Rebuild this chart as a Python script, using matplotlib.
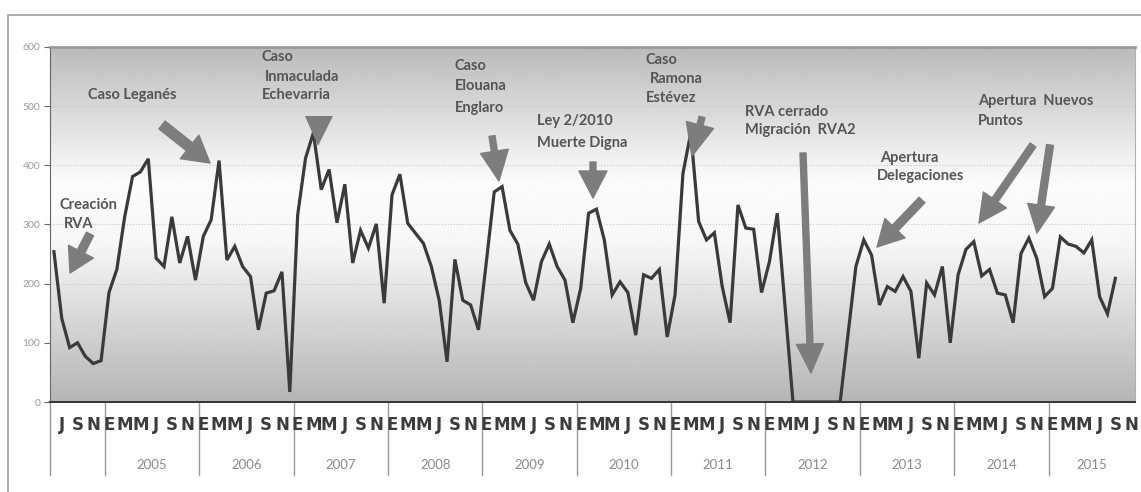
import numpy as np
import matplotlib
matplotlib.use("Agg")
import matplotlib.pyplot as plt
from matplotlib.patches import Rectangle, Polygon
from matplotlib.transforms import IdentityTransform

plt.rcParams['font.family'] = ['Lato', 'DejaVu Sans']

# Monthly series, June 2004 to September 2015 (axis runs to November 2015)
month_letters = ['E', 'F', 'M', 'A', 'M', 'J', 'J', 'A', 'S', 'O', 'N', 'D']
year_labels = ['2005', '2006', '2007', '2008', '2009', '2010',
               '2011', '2012', '2013', '2014', '2015']
first_month_2004 = 6
last_month_2015 = 11

v2004 = [254, 141, 92, 100, 77, 65, 70]
v2005 = [185, 224, 313, 381, 389, 411, 243, 229, 313, 235, 280, 206]
v2006 = [280, 308, 408, 240, 263, 229, 212, 122, 184, 188, 220, 17]
v2007 = [316, 412, 455, 359, 393, 303, 368, 235, 290, 260, 301, 167]
v2008 = [350, 385, 302, 285, 268, 229, 172, 68, 241, 172, 164, 122]
v2009 = [237, 355, 364, 290, 267, 202, 172, 237, 267, 229, 206, 134]
v2010 = [192, 319, 326, 274, 181, 203, 185, 113, 215, 209, 224, 110]
v2011 = [181, 386, 455, 305, 274, 286, 195, 134, 333, 294, 292, 185]
v2012 = [237, 319, 160, 0, 0, 0, 0, 0, 0, 0, 115, 229]
v2013 = [274, 248, 164, 195, 187, 212, 187, 74, 201, 181, 229, 100]
v2014 = [215, 258, 271, 213, 224, 184, 181, 134, 251, 277, 243, 178]
v2015 = [192, 279, 267, 263, 252, 274, 178, 149, 209]

values = np.array(v2004 + v2005 + v2006 + v2007 + v2008 + v2009 + v2010
                  + v2011 + v2012 + v2013 + v2014 + v2015, dtype=float)

# category list (month number of every slot on the axis)
months = list(range(first_month_2004, 13)) + list(range(1, 13)) * 10 + list(range(1, last_month_2015 + 1))
n_cat = len(months)
x = np.arange(len(values))

W, H = 1141, 492
fig = plt.figure(figsize=(W / 100, H / 100), dpi=100)
ax = fig.add_axes([50 / W, (H - 402) / H, 1085 / W, 355 / H])

# background gradient of the plot area
stops_pos = [0.0, 0.45, 0.62, 1.0]
stops_val = [0.71, 0.97, 0.985, 0.73]
grad = np.interp(np.linspace(0, 1, 256), stops_pos, stops_val)[:, None]
ax.imshow(grad, extent=[-0.5, n_cat - 0.5, 0, 600], origin='lower', aspect='auto',
          cmap='gray', vmin=0, vmax=1, zorder=0)

for yv in range(100, 600, 100):
    ax.axhline(yv, color='#c8c8c8', lw=0.8, ls=':', zorder=1)

ax.plot(x, values, color='#3a3a3a', lw=2.3, zorder=3, solid_joinstyle='miter')

ax.set_xlim(-0.5, n_cat - 0.5)
ax.set_ylim(0, 600)
ax.set_yticks(range(0, 601, 100))
ax.tick_params(axis='y', labelsize=7.5, labelcolor='#9a9a9a', color='#666666', length=4, width=0.8, pad=3)
ax.set_xticks([])

ax.spines['left'].set_color('#666666')
ax.spines['bottom'].set_color('#333333')
ax.spines['bottom'].set_linewidth(1.4)
ax.spines['top'].set_color('#9a9a9a')
ax.spines['top'].set_linewidth(2)
ax.spines['right'].set_color('#b0b0b0')

# month letters (every second month) and year rows
tr = ax.get_xaxis_transform()
for i, m in enumerate(months):
    if i % 2 == 1:
        ax.text(i, -0.065, month_letters[m - 1], transform=tr, ha='center', va='center',
                fontsize=12, fontweight='bold', color='#3c3c3c', family='DejaVu Sans')

bounds = [-0.5] + [6.5 + 12 * k for k in range(len(year_labels))]
for b in bounds:
    ax.plot([b, b], [0, -0.206], transform=tr, color='#9a9a9a', lw=1, clip_on=False)
for k, yl in enumerate(year_labels):
    start = 6.5 + 12 * k
    end = min(start + 12, n_cat - 0.5)
    ax.text((start + end) / 2, -0.178, yl, transform=tr, ha='center', va='center',
            fontsize=9.5, color='#8a8a8a')

# outer chart frame
fig.add_artist(Rectangle((8 / W, -0.05), 1.1, 1 - 15 / H + 0.05, transform=fig.transFigure,
                         fill=False, ec='#a8a8a8', lw=1.3))

# annotations (positions in image pixels, y from top)
txt_color = '#555555'
arrow_color = '#7d7d7d'


def label(xp, yp, s):
    fig.text(xp / W, 1 - yp / H, s, ha='left', va='center', fontsize=10.5,
             fontweight='bold', color=txt_color)


def arrow(tail, tip, hl, hw, tw):
    style = f"simple,head_length={hl * 0.72},head_width={hw * 0.72},tail_width={tw * 0.72}"
    ax.annotate('', xy=(tip[0], H - tip[1]), xycoords='figure pixels',
                xytext=(tail[0], H - tail[1]), textcoords='figure pixels',
                arrowprops=dict(arrowstyle=style, color=arrow_color, shrinkA=0, shrinkB=0,
                                mutation_scale=1), zorder=5)


label(60, 205, 'Creación')
label(64, 224, 'RVA')
arrow((90, 234), (70, 273), 24, 28, 8)

label(88, 95, 'Caso Leganés')
arrow((162, 125), (210, 163), 26, 30, 10)

label(262, 57, 'Caso')
label(265, 77, 'Inmaculada')
label(262, 95, 'Echevarria')
fig.add_artist(Polygon([(305, H - 116), (333, H - 116), (318, H - 146)], closed=True,
                       transform=IdentityTransform(), fc=arrow_color, ec='none', zorder=5))

label(455, 66, 'Caso')
label(455, 86, 'Elouana')
label(455, 108, 'Englaro')
arrow((492, 136), (499, 181), 30, 28, 6)

label(537, 121, 'Ley 2/2010')
label(537, 143, 'Muerte Digna')
arrow((593, 162), (593, 198), 27, 28, 6)

label(646, 60, 'Caso')
label(650, 79, 'Ramona')
label(646, 98, 'Estévez')
arrow((702, 117), (692, 156), 32, 28, 6)

label(745, 112, 'RVA cerrado')
label(745, 130, 'Migración  RVA2')
arrow((803, 153), (811, 373), 29, 27, 6)

label(880, 158, 'Apertura')
label(877, 176, 'Delegaciones')
arrow((922, 200), (877, 247), 26, 28, 8)

label(978, 101, 'Apertura  Nuevos')
label(978, 121, 'Puntos')
arrow((1033, 145), (979, 223), 28, 28, 7)
arrow((1050, 145), (1037, 233), 28, 27, 7)

fig.savefig('out.png', dpi=100, facecolor='white')
